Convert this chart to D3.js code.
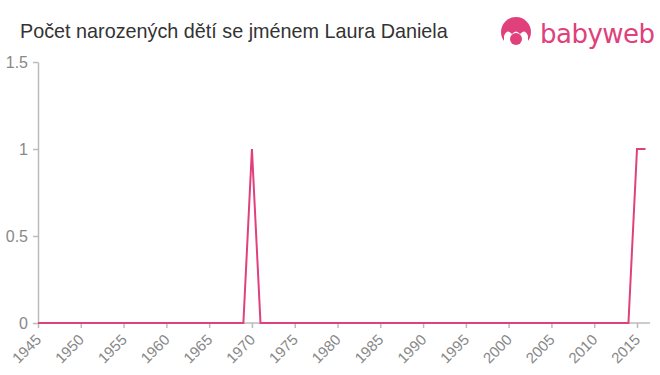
<!DOCTYPE html>
<html>
<head>
<meta charset="utf-8">
<script src="https://cdn.jsdelivr.net/npm/d3@7"></script>
<style>
  body { margin: 0; background: #fff; font-family: "Liberation Sans", Arial, sans-serif; }
</style>
</head>
<body>
<div id="chartMain"></div>
<script>
const title = 'Počet narozených dětí se jménem Laura Daniela';

const years = [];
for (let y = 1945; y <= 2016; y++) years.push(y);
// počty podle roku (1970 a 2015-2016 = 1)
const counts = [
    0, 0, 0, 0, 0, 0, 0, 0, 0, 0,   // 1945-1954
    0, 0, 0, 0, 0, 0, 0, 0, 0, 0,   // 1955-1964
    0, 0, 0, 0, 0, 1, 0, 0, 0, 0,   // 1965-1974
    0, 0, 0, 0, 0, 0, 0, 0, 0, 0,   // 1975-1984
    0, 0, 0, 0, 0, 0, 0, 0, 0, 0,   // 1985-1994
    0, 0, 0, 0, 0, 0, 0, 0, 0, 0,   // 1995-2004
    0, 0, 0, 0, 0, 0, 0, 0, 0, 0,   // 2005-2014
    1, 1                            // 2015-2016
];
const xTicks = d3.range(1945, 2016, 5);
const yTicks = [0, 0.5, 1, 1.5];

const width = 660, height = 375;
const margin = { top: 62, right: 10, bottom: 52, left: 38 };

const svg = d3.select('#chartMain')
    .append('svg')
    .attr('width', width)
    .attr('height', height);

svg.append('text')
    .attr('x', 20)
    .attr('y', 38)
    .attr('fill', '#333')
    .attr('font-size', 19.8)
    .text(title);

// logo
const logo = svg.append('g').attr('transform', 'translate(516,32)');
logo.append('circle').attr('r', 15).attr('fill', '#e0407b');
logo.append('path')
    .attr('d', 'M-12,4 Q-9,-4 -4,2 Q0,-3 4,2 Q9,-4 12,4 L12,16 L-12,16 Z')
    .attr('fill', '#fff');
logo.append('circle').attr('cx', 0).attr('cy', 7).attr('r', 6).attr('fill', '#e0407b');
svg.append('text')
    .attr('x', 540)
    .attr('y', 43)
    .attr('fill', '#e0407b')
    .attr('font-size', 26)
    .attr('font-family', '"DejaVu Sans", sans-serif')
    .style('letter-spacing', '-0.5px')
    .text('babyweb');

const x = d3.scaleLinear()
    .domain([1945, 2015])
    .range([margin.left, 637]);

const y = d3.scaleLinear()
    .domain([0, 1.5])
    .range([323, margin.top]);

const xAxis = svg.append('g')
    .attr('transform', 'translate(0,323)')
    .call(d3.axisBottom(x).tickValues(xTicks).tickFormat(d3.format('d')).tickSize(5).tickSizeOuter(0));
xAxis.attr('font-size', 15).attr('font-family', '"Liberation Sans", Arial, sans-serif');
xAxis.select('.domain').attr('d', `M${margin.left},0H650`);
xAxis.selectAll('text')
    .attr('x', 0)
    .attr('y', 0)
    .attr('dy', '0.35em')
    .attr('transform', 'translate(0,14) rotate(-45)')
    .attr('text-anchor', 'end')
    .attr('fill', '#888');

const yAxis = svg.append('g')
    .attr('transform', `translate(${margin.left},0)`)
    .call(d3.axisLeft(y).tickValues(yTicks).tickFormat(d => d).tickSize(5).tickSizeOuter(0));
yAxis.attr('font-size', 16).attr('font-family', '"Liberation Sans", Arial, sans-serif');
yAxis.selectAll('text')
    .attr('x', -10)
    .attr('fill', '#888');

svg.selectAll('.domain, .tick line').attr('stroke', '#bbb').attr('stroke-width', 1.5);

const line = d3.line()
    .x((d, i) => x(years[i]))
    .y(d => y(d));

svg.append('path')
    .datum(counts)
    .attr('fill', 'none')
    .attr('stroke', '#e0407b')
    .attr('stroke-width', 2)
    .attr('d', line);
</script>
</body>
</html>
